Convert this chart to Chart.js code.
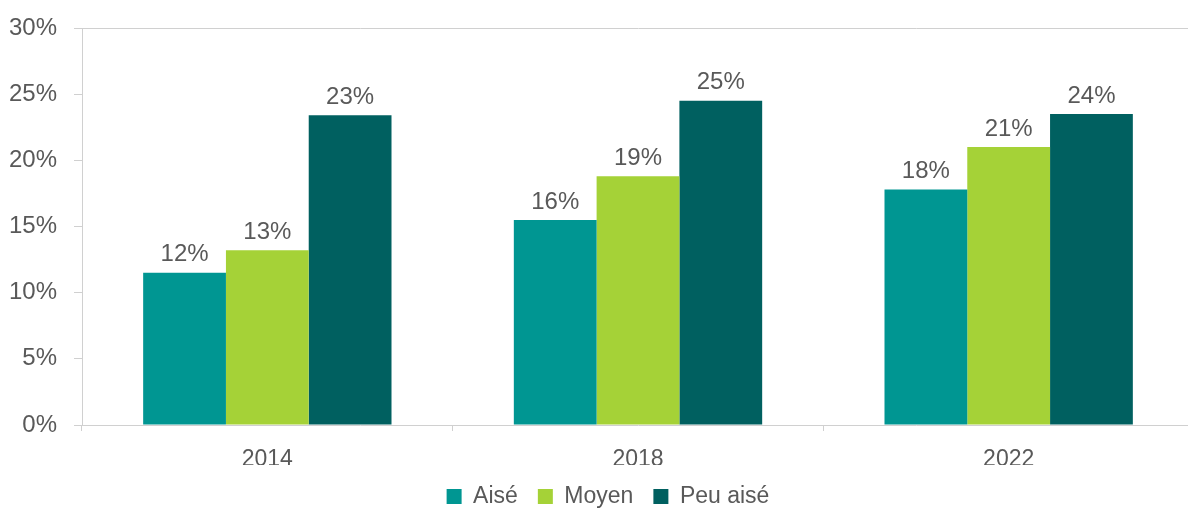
<!DOCTYPE html>
<html><head><meta charset="utf-8">
<script src="https://cdn.jsdelivr.net/npm/chart.js@4/dist/chart.umd.min.js"></script>
<style>
html,body{margin:0;padding:0;background:#fff;overflow:hidden;width:1188px;height:508px}
#wrap{position:relative;width:1216px;height:518px}
</style></head><body>
<div id="wrap"><canvas id="c" width="1216" height="518"></canvas></div>
<script>
const categories = ['2014', '2018', '2022'];
const seriesNames = ['Aisé', 'Moyen', 'Peu aisé'];
const aise = [11.5, 15.5, 17.8];
const moyen = [13.2, 18.8, 21.0];
const peuAise = [23.4, 24.5, 23.5];
const yTicks = [0, 5, 10, 15, 20, 25, 30];
const colors = ['#009692', '#A5D237', '#006060'];

const textColor = '#595959';
const fontFam = '"Liberation Sans", Arial, Helvetica, sans-serif';

const valueLabels = {
  id: 'valueLabels',
  afterDatasetsDraw(chart) {
    const ctx = chart.ctx;
    ctx.save();
    ctx.font = '24px ' + fontFam;
    ctx.fillStyle = textColor;
    ctx.textAlign = 'center';
    ctx.textBaseline = 'bottom';
    chart.data.datasets.forEach((ds, i) => {
      chart.getDatasetMeta(i).data.forEach((bar, j) => {
        ctx.fillText(Math.round(ds.data[j]) + '%', bar.x, bar.y - 6);
      });
    });
    ctx.restore();
  }
};

const legendShift = {
  id: 'legendShift',
  afterLayout(chart) {
    const lg = chart.legend;
    if (lg) { lg.left += 11; lg.right += 11; }
  }
};

new Chart(document.getElementById('c'), {
  type: 'bar',
  data: {
    labels: categories,
    datasets: [
      { label: seriesNames[0], data: aise, backgroundColor: colors[0] },
      { label: seriesNames[1], data: moyen, backgroundColor: colors[1] },
      { label: seriesNames[2], data: peuAise, backgroundColor: colors[2] }
    ]
  },
  options: {
    responsive: false,
    animation: false,
    devicePixelRatio: 1,
    layout: { padding: { top: 28, right: 22, left: 0, bottom: 0 } },
    datasets: { bar: { barPercentage: 1, categoryPercentage: 0.67 } },
    plugins: {
      legend: {
        position: 'bottom',
        labels: {
          color: textColor,
          font: { size: 23, family: fontFam },
          boxWidth: 15, boxHeight: 15, padding: 20
        }
      },
      tooltip: { enabled: false },
      title: { display: false }
    },
    scales: {
      x: {
        grid: { offset: true, drawOnChartArea: false, color: '#d0d0d0', tickLength: 6 },
        border: { color: '#d0d0d0', width: 1 },
        ticks: { color: textColor, font: { size: 23, family: fontFam }, padding: 15 },
        afterFit(s) { s.height = 40; s.paddingLeft = 0; s.paddingRight = 0; }
      },
      y: {
        min: 0, max: 30,
        afterBuildTicks(s) { s.ticks = yTicks.map(v => ({ value: v })); },
        grid: {
          color: c => (c.tick && c.tick.value === 30) ? '#d0d0d0' : 'rgba(0,0,0,0)',
          tickColor: '#d0d0d0',
          tickLength: 8
        },
        border: { color: '#d0d0d0', width: 1 },
        ticks: { color: textColor, font: { size: 24, family: fontFam }, padding: 17, callback: v => v + '%' },
        afterFit(s) { s.width = 82; s.paddingTop = 0; s.paddingBottom = 0; }
      }
    }
  },
  plugins: [valueLabels, legendShift]
});
</script>
</body></html>
